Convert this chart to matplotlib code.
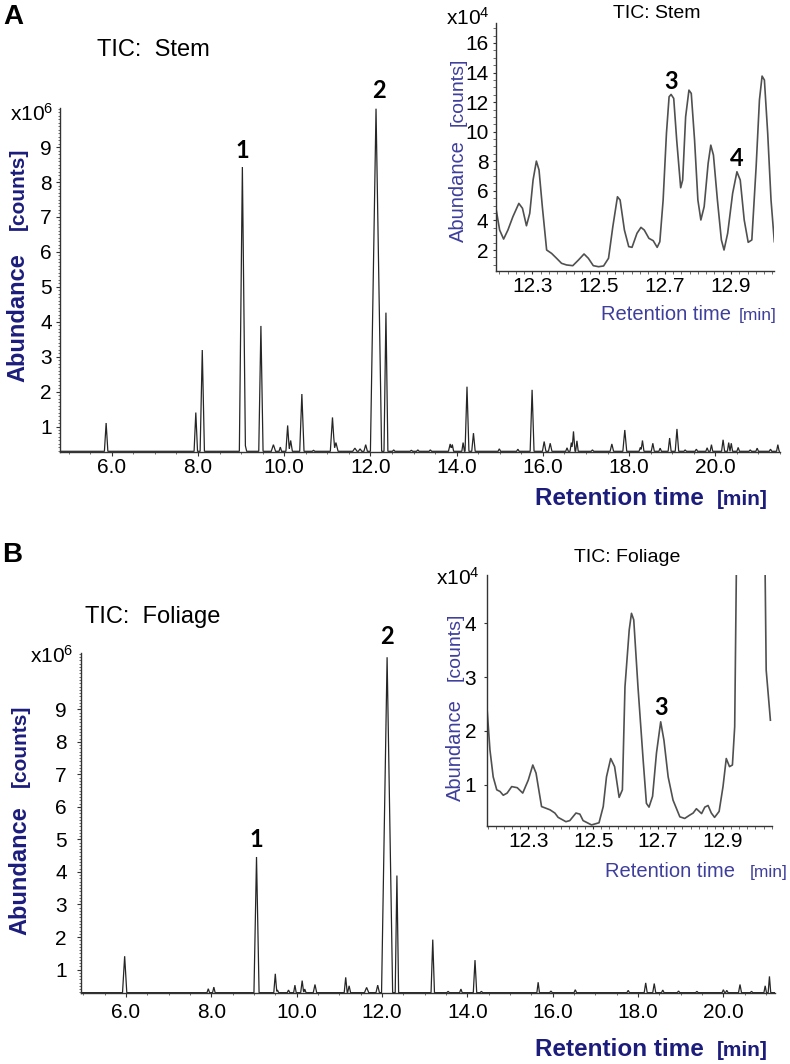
import numpy as np
import matplotlib
matplotlib.use("Agg")
import matplotlib.pyplot as plt
from matplotlib.ticker import MultipleLocator, FixedLocator

plt.rcParams['font.family'] = ['Liberation Sans', 'DejaVu Sans']
plt.rcParams['mathtext.fontset'] = 'custom'
plt.rcParams['mathtext.rm'] = 'Liberation Sans'
plt.rcParams['mathtext.it'] = 'Liberation Sans:italic'
plt.rcParams['mathtext.bf'] = 'Liberation Sans:bold'

# ---------------- data ----------------
# Panel A: TIC Stem (abundance x1e6 counts)
stem_peak_time = [5.87, 7.95, 8.10, 9.03, 9.10, 9.46, 9.75, 9.91, 10.08, 10.15,
                  10.41, 10.68, 11.12, 11.20, 11.64, 11.76, 11.89, 12.13, 12.36, 12.54,
                  12.95, 13.10, 13.39, 13.85, 13.90, 14.15, 14.24, 14.39, 14.99, 15.42,
                  15.75, 16.03, 16.17, 16.56, 16.66, 16.71, 16.79, 17.15, 17.60, 17.90,
                  18.26, 18.31, 18.55, 18.72, 18.94, 19.11, 19.30, 19.56, 19.81, 19.91,
                  20.18, 20.31, 20.37, 20.53, 20.81, 20.97, 21.28, 21.45]
stem_peak_height = [1.10, 1.40, 3.19, 8.43, 0.45, 3.88, 0.48, 0.41, 1.03, 0.60,
                    1.93, 0.32, 1.26, 0.54, 0.38, 0.36, 0.48, 10.10, 4.26, 0.33,
                    0.32, 0.33, 0.33, 0.50, 0.48, 0.54, 2.14, 0.81, 0.36, 0.35,
                    2.05, 0.57, 0.52, 0.39, 0.54, 0.86, 0.59, 0.33, 0.50, 0.90,
                    0.40, 0.60, 0.52, 0.38, 0.67, 0.93, 0.33, 0.35, 0.39, 0.48,
                    0.62, 0.54, 0.52, 0.40, 0.33, 0.38, 0.35, 0.48]
stem_peak_halfwidth = [0.04, 0.04, 0.05, 0.07, 0.03, 0.05, 0.05, 0.03, 0.04, 0.04,
                       0.05, 0.03, 0.05, 0.05, 0.05, 0.04, 0.04, 0.13, 0.045, 0.03,
                       0.03, 0.03, 0.03, 0.04, 0.03, 0.03, 0.045, 0.04, 0.03, 0.03,
                       0.045, 0.04, 0.04, 0.03, 0.03, 0.035, 0.03, 0.03, 0.04, 0.045,
                       0.03, 0.035, 0.035, 0.03, 0.035, 0.04, 0.03, 0.03, 0.03, 0.03,
                       0.035, 0.03, 0.03, 0.03, 0.03, 0.03, 0.03, 0.03]
stem_baseline = 0.29
stem_labels = [("1", 9.03, 8.43), ("2", 12.13, 10.10)]

# Panel A inset: TIC Stem zoom (abundance x1e4 counts)
stem_zoom_time = [12.189, 12.201, 12.213, 12.226, 12.241, 12.259, 12.270, 12.282, 12.292, 12.302,
                  12.312, 12.320, 12.330, 12.343, 12.358, 12.373, 12.388, 12.403, 12.422, 12.439,
                  12.456, 12.469, 12.484, 12.500, 12.515, 12.530, 12.543, 12.557, 12.565, 12.578,
                  12.591, 12.601, 12.616, 12.628, 12.638, 12.652, 12.665, 12.677, 12.685, 12.695,
                  12.705, 12.713, 12.719, 12.727, 12.736, 12.748, 12.754, 12.763, 12.773, 12.780,
                  12.790, 12.800, 12.809, 12.819, 12.831, 12.839, 12.847, 12.859, 12.871, 12.879,
                  12.890, 12.905, 12.918, 12.928, 12.940, 12.952, 12.963, 12.976, 12.986, 12.994,
                  13.001, 13.011, 13.021, 13.031]
stem_zoom_abund = [4.93, 3.35, 2.74, 3.35, 4.25, 5.15, 4.82, 3.64, 4.48, 6.73,
                   8.01, 7.41, 4.93, 2.00, 1.77, 1.44, 1.10, 0.99, 0.94, 1.32,
                   1.73, 1.44, 0.94, 0.87, 0.92, 1.44, 3.58, 5.60, 5.38, 3.35,
                   2.23, 2.18, 3.13, 3.53, 3.35, 2.79, 2.63, 2.18, 2.56, 5.38,
                   9.88, 12.36, 12.52, 12.25, 9.43, 6.21, 6.73, 11.01, 12.81, 12.59,
                   9.43, 5.38, 4.03, 4.93, 7.86, 9.09, 8.42, 5.38, 2.68, 2.00,
                   3.13, 5.83, 7.29, 6.73, 4.03, 2.52, 2.68, 7.63, 12.14, 13.76,
                   13.49, 9.88, 5.38, 2.56]
stem_zoom_labels = [("3", 12.719, 12.52), ("4", 12.918, 7.29)]

# Panel B: TIC Foliage (abundance x1e6 counts)
fol_peak_time = [5.97, 7.93, 8.06, 9.06, 9.50, 9.55, 9.81, 9.96, 10.13, 10.19,
                 10.43, 11.15, 11.23, 11.64, 11.90, 12.12, 12.35, 13.19, 13.55, 13.85,
                 14.18, 14.33, 15.66, 15.96, 16.53, 17.77, 18.18, 18.38, 18.58, 18.95,
                 19.38, 20.00, 20.08, 20.39, 20.66, 20.98, 21.08]
fol_peak_height = [1.41, 0.41, 0.46, 4.46, 0.87, 0.37, 0.37, 0.52, 0.66, 0.40,
                   0.54, 0.76, 0.50, 0.45, 0.52, 10.60, 3.89, 1.92, 0.33, 0.40,
                   1.29, 0.33, 0.61, 0.34, 0.38, 0.36, 0.59, 0.57, 0.37, 0.34,
                   0.33, 0.38, 0.36, 0.54, 0.33, 0.50, 0.79]
fol_peak_halfwidth = [0.05, 0.03, 0.03, 0.06, 0.035, 0.03, 0.03, 0.03, 0.035, 0.03,
                      0.04, 0.035, 0.035, 0.05, 0.04, 0.13, 0.04, 0.04, 0.03, 0.03,
                      0.04, 0.03, 0.03, 0.03, 0.03, 0.03, 0.035, 0.035, 0.03, 0.03,
                      0.03, 0.03, 0.03, 0.035, 0.03, 0.03, 0.03]
fol_baseline = 0.29
fol_labels = [("1", 9.06, 4.46), ("2", 12.12, 10.60)]

# Panel B inset: TIC Foliage zoom (abundance x1e4 counts)
fol_zoom_time = [12.172, 12.182, 12.192, 12.203, 12.213, 12.223, 12.235, 12.249, 12.266, 12.283,
                 12.300, 12.314, 12.324, 12.341, 12.367, 12.382, 12.392, 12.416, 12.428, 12.447,
                 12.459, 12.469, 12.495, 12.518, 12.531, 12.541, 12.554, 12.566, 12.580, 12.590,
                 12.598, 12.611, 12.618, 12.625, 12.638, 12.654, 12.664, 12.672, 12.683, 12.695,
                 12.708, 12.718, 12.731, 12.746, 12.767, 12.782, 12.797, 12.808, 12.818, 12.834,
                 12.844, 12.854, 12.864, 12.874, 12.888, 12.900, 12.910, 12.920, 12.929, 12.936,
                 12.985, 13.033, 13.046]
fol_zoom_abund = [2.51, 1.65, 1.15, 0.91, 0.88, 0.81, 0.85, 0.97, 0.95, 0.85,
                  1.09, 1.37, 1.22, 0.60, 0.54, 0.48, 0.40, 0.32, 0.34, 0.48,
                  0.46, 0.34, 0.26, 0.30, 0.60, 1.15, 1.49, 1.34, 0.77, 0.91,
                  2.82, 3.87, 4.18, 4.06, 2.82, 1.46, 0.66, 0.59, 0.79, 1.59,
                  2.17, 1.83, 1.15, 0.72, 0.41, 0.38, 0.44, 0.48, 0.56, 0.47,
                  0.59, 0.62, 0.48, 0.40, 0.51, 0.97, 1.49, 1.34, 1.37, 2.08,
                  29.6, 3.13, 2.20]
fol_zoom_labels = [("3", 12.708, 2.17)]

main_xticks = [6.0, 8.0, 10.0, 12.0, 14.0, 16.0, 18.0, 20.0]
main_yticks = [1, 2, 3, 4, 5, 6, 7, 8, 9]
zoom_xticks = [12.3, 12.5, 12.7, 12.9]
stem_zoom_yticks = [2, 4, 6, 8, 10, 12, 14, 16]
fol_zoom_yticks = [1, 2, 3, 4]

# ---------------- styling ----------------
W, H = 790, 1064
NAVY = '#1c1c7c'
INSET_NAVY = '#3e3e9c'
LINE = '#262626'
INSET_LINE = '#505050'
PEAKFONT = ['Lato', 'Liberation Sans', 'DejaVu Sans']

fig = plt.figure(figsize=(W / 100, H / 100), dpi=100)


def fx(x):
    return x / W


def fy(y):
    return 1 - y / H


def rect(l, t, r, b):
    return [fx(l), fy(b), (r - l) / W, (b - t) / H]


def chromatogram(times, heights, halfw, base, t0, t1):
    verts = [t0, t1]
    for t, w in zip(times, halfw):
        verts += [t - w, t, t + w]
    grid = np.array(sorted(set(verts)))
    y = np.full(grid.shape, base, dtype=float)
    for t, h, w in zip(times, heights, halfw):
        y = np.maximum(y, np.interp(grid, [t - w, t, t + w], [base, h, base],
                                    left=base, right=base))
    return grid, y


def style_axes(ax):
    for s in ('top', 'right'):
        ax.spines[s].set_visible(False)
    for s in ('left', 'bottom'):
        ax.spines[s].set_linewidth(1.0)
        ax.spines[s].set_color('#333333')
    ax.set_facecolor('none')


def main_panel(rect_px, times, heights, halfw, base, xlim, ylim, ypad, xpad):
    ax = fig.add_axes(rect(*rect_px))
    style_axes(ax)
    t, y = chromatogram(times, heights, halfw, base, xlim[0], xlim[1])
    ax.plot(t, y, color=LINE, lw=0.9, solid_joinstyle='miter')
    ax.set_xlim(*xlim)
    ax.set_ylim(*ylim)
    ax.xaxis.set_major_locator(FixedLocator(main_xticks))
    ax.set_xticklabels([f"{v:.1f}" for v in main_xticks])
    ax.xaxis.set_minor_locator(MultipleLocator(0.5))
    ax.yaxis.set_major_locator(FixedLocator(main_yticks))
    ax.set_yticklabels([str(v) for v in main_yticks])
    ax.yaxis.set_minor_locator(MultipleLocator(0.1))
    ax.tick_params(axis='both', which='major', direction='out', length=3, width=0.8,
                   colors='#333333', labelcolor='black', labelsize=15)
    ax.tick_params(axis='both', which='minor', direction='out', length=1.6, width=0.6,
                   colors='#555555')
    ax.tick_params(axis='y', which='major', pad=ypad)
    ax.tick_params(axis='x', which='major', pad=xpad)
    return ax


def inset_panel(rect_px, times, abund, xlim, ylim, yticks, ypad, yminor):
    ax = fig.add_axes(rect(*rect_px))
    style_axes(ax)
    ax.plot(times, abund, color=INSET_LINE, lw=1.2)
    ax.set_xlim(*xlim)
    ax.set_ylim(*ylim)
    ax.xaxis.set_major_locator(FixedLocator(zoom_xticks))
    ax.set_xticklabels([f"{v:.1f}" for v in zoom_xticks])
    ax.xaxis.set_minor_locator(MultipleLocator(0.025))
    ax.yaxis.set_major_locator(FixedLocator(yticks))
    ax.set_yticklabels([str(v) for v in yticks])
    if yminor:
        ax.yaxis.set_minor_locator(MultipleLocator(yminor))
    ax.tick_params(axis='both', which='major', direction='out', length=2.5, width=0.8,
                   colors='#333333', labelcolor='black', labelsize=15)
    ax.tick_params(axis='both', which='minor', direction='out', length=2, width=0.6,
                   colors='#555555')
    ax.tick_params(axis='y', which='major', pad=ypad)
    ax.tick_params(axis='x', which='major', pad=1.5)
    return ax


def peak_labels(ax, labels, dy, dx=0):
    for txt, t, v in labels:
        ax.annotate(txt, xy=(t, v), xytext=(dx, dy), textcoords='offset points',
                    ha='center', va='center', fontsize=17, fontweight='bold',
                    family=PEAKFONT, color='black', annotation_clip=False)


# ---------------- Panel A ----------------
axA = main_panel((60, 108, 780, 452), stem_peak_time, stem_peak_height, stem_peak_halfwidth,
                 stem_baseline, (4.80, 21.50), (0.27, 10.12), ypad=3, xpad=1.5)
peak_labels(axA, stem_labels[:1], dy=12)
peak_labels(axA, stem_labels[1:], dy=13, dx=2.5)

insA = inset_panel((496, 23, 774, 271), stem_zoom_time, stem_zoom_abund,
                   (12.19, 13.03), (0.58, 17.35), stem_zoom_yticks, ypad=3, yminor=0.5)
peak_labels(insA, stem_zoom_labels, dy=9.5)

# ---------------- Panel B ----------------
axB = main_panel((80.7, 653, 775, 993.3), fol_peak_time, fol_peak_height, fol_peak_halfwidth,
                 fol_baseline, (4.94, 21.21), (0.27, 10.73), ypad=7, xpad=4)
peak_labels(axB, fol_labels[:1], dy=12.5)
peak_labels(axB, fol_labels[1:], dy=15)

insB = inset_panel((486.7, 575, 771.7, 826), fol_zoom_time, fol_zoom_abund,
                   (12.172, 13.05), (0.24, 4.89), fol_zoom_yticks, ypad=5, yminor=None)
peak_labels(insB, fol_zoom_labels, dy=10)

# ---------------- texts ----------------
# panel letters
fig.text(fx(3), fy(17), 'A', fontsize=20, fontweight='bold', ha='left', va='center')
fig.text(fx(2), fy(555), 'B', fontsize=20, fontweight='bold', ha='left', va='center')

# main titles
fig.text(fx(97), fy(50), 'TIC:  Stem', fontsize=17, ha='left', va='center')
fig.text(fx(85), fy(617), 'TIC:  Foliage', fontsize=17, ha='left', va='center')

# inset titles
fig.text(fx(657), fy(14), 'TIC: Stem', fontsize=14, ha='center', va='center')
fig.text(fx(627), fy(558), 'TIC: Foliage', fontsize=14, ha='center', va='center')

# multipliers
fig.text(fx(53), fy(114), r'x10$^{6}$', fontsize=15, ha='right', va='center')
fig.text(fx(73), fy(656), r'x10$^{6}$', fontsize=15, ha='right', va='center')
fig.text(fx(490), fy(18), r'x10$^{4}$', fontsize=15, ha='right', va='center')
fig.text(fx(480), fy(578), r'x10$^{4}$', fontsize=15, ha='right', va='center')

# main y labels
for cx, ya, yc in ((18, 318, 189), (20, 871, 746)):
    fig.text(fx(cx), fy(ya), 'Abundance', rotation=90, ha='center', va='center',
             fontsize=17, fontweight='bold', color=NAVY)
    fig.text(fx(cx), fy(yc), '[counts]', rotation=90, ha='center', va='center',
             fontsize=15, fontweight='bold', color=NAVY)

# main x labels
for yb in (505, 1056):
    fig.text(fx(535), fy(yb), 'Retention time', ha='left', va='baseline',
             fontsize=17.5, fontweight='bold', color=NAVY)
    fig.text(fx(768), fy(yb), '[min]', ha='right', va='baseline',
             fontsize=15, fontweight='bold', color=NAVY)

# inset y labels
for cx, ya, yc in ((458, 191, 92), (455, 750, 647)):
    fig.text(fx(cx), fy(ya), 'Abundance', rotation=90, ha='center', va='center',
             fontsize=14.5, color=INSET_NAVY)
    fig.text(fx(cx), fy(yc), '[counts]', rotation=90, ha='center', va='center',
             fontsize=14, color=INSET_NAVY)

# inset x labels
for xl, xr, yb in ((601, 777, 320), (605, 788, 877)):
    fig.text(fx(xl), fy(yb), 'Retention time', ha='left', va='baseline',
             fontsize=14.5, color=INSET_NAVY)
    fig.text(fx(xr), fy(yb), '[min]', ha='right', va='baseline',
             fontsize=12.5, color=INSET_NAVY)

fig.savefig('out.png', dpi=100)
